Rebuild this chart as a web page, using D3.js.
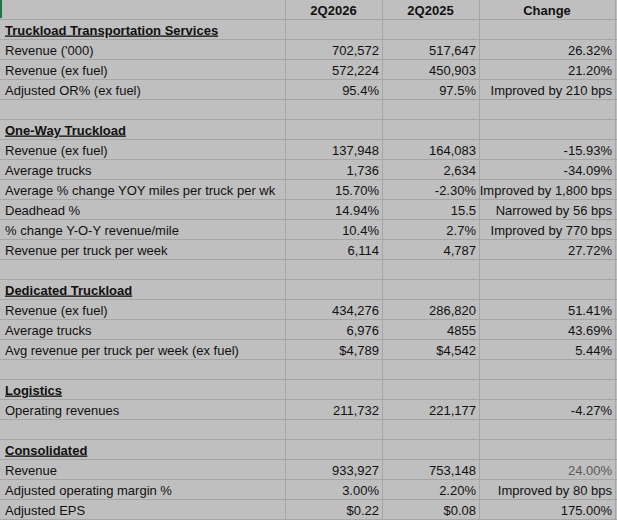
<!DOCTYPE html>
<html>
<head>
<meta charset="utf-8">
<script src="https://cdn.jsdelivr.net/npm/d3@7"></script>
<style>
  html, body { margin: 0; padding: 0; background: #ffffff; }
  svg { display: block; }
  text { font-family: "Liberation Sans", Arial, sans-serif; font-size: 13px; fill: #111; }
</style>
</head>
<body>
<div class="draw-area"></div>
<script>
// ---------------------------------------------------
// Data: one block per section of the sheet
// ---------------------------------------------------
const columnHeaders = ["", "2Q2026", "2Q2025", "Change"];

const sectionTitles = [
    "Truckload Transportation Services",
    "One-Way Truckload",
    "Dedicated Truckload",
    "Logistics",
    "Consolidated"
];

// Truckload Transportation Services
const ttsLabels = ["Revenue ('000)", "Revenue (ex fuel)", "Adjusted OR% (ex fuel)"];
const tts2026   = ["702,572", "572,224", "95.4%"];
const tts2025   = ["517,647", "450,903", "97.5%"];
const ttsChange = ["26.32%", "21.20%", "Improved by 210 bps"];

// One-Way Truckload
const owtLabels = ["Revenue (ex fuel)", "Average trucks", "Average % change YOY miles per truck per wk",
                   "Deadhead %", "% change Y-O-Y revenue/mile", "Revenue per truck per week"];
const owt2026   = ["137,948", "1,736", "15.70%", "14.94%", "10.4%", "6,114"];
const owt2025   = ["164,083", "2,634", "-2.30%", "15.5", "2.7%", "4,787"];
const owtChange = ["-15.93%", "-34.09%", "Improved by 1,800 bps", "Narrowed by 56 bps", "Improved by 770 bps", "27.72%"];

// Dedicated Truckload
const dtLabels = ["Revenue (ex fuel)", "Average trucks", "Avg revenue per truck per week (ex fuel)"];
const dt2026   = ["434,276", "6,976", "$4,789"];
const dt2025   = ["286,820", "4855", "$4,542"];
const dtChange = ["51.41%", "43.69%", "5.44%"];

// Logistics
const logLabels = ["Operating revenues"];
const log2026   = ["211,732"];
const log2025   = ["221,177"];
const logChange = ["-4.27%"];

// Consolidated
const conLabels = ["Revenue", "Adjusted operating margin %", "Adjusted EPS"];
const con2026   = ["933,927", "3.00%", "$0.22"];
const con2025   = ["753,148", "2.20%", "$0.08"];
const conChange = ["24.00%", "Improved by 80 bps", "175.00%"];

// number of blank rows after each section
const gapsAfter = [1, 1, 1, 1, 0];

// ---------------------------------------------------
// Build the flat row list
// ---------------------------------------------------
const sections = [
    [ttsLabels, tts2026, tts2025, ttsChange],
    [owtLabels, owt2026, owt2025, owtChange],
    [dtLabels, dt2026, dt2025, dtChange],
    [logLabels, log2026, log2025, logChange],
    [conLabels, con2026, con2025, conChange]
];

const rows = [{ type: "header", cells: columnHeaders }];
sectionTitles.forEach((title, s) => {
    rows.push({ type: "section", cells: [title, "", "", ""] });
    const [labels, a, b, c] = sections[s];
    labels.forEach((lab, i) => {
        rows.push({ type: "data", section: title, cells: [lab, a[i], b[i], c[i]] });
    });
    for (let g = 0; g < gapsAfter[s]; g++) rows.push({ type: "blank", cells: ["", "", "", ""] });
});

// ---------------------------------------------------
// Layout
// ---------------------------------------------------
const width = 617, height = 525;
const rowH = 20;
const colEdges = [0, 285, 382, 479, 615];   // column boundaries (px)

const y = d3.scaleBand()
    .domain(d3.range(rows.length))
    .range([0, rows.length * rowH])
    .padding(0);

const colLeft  = d3.scaleOrdinal().domain(d3.range(4)).range(colEdges.slice(0, 4));
const colRight = d3.scaleOrdinal().domain(d3.range(4)).range(colEdges.slice(1));

const svg = d3.select(".draw-area")
    .append("svg")
    .attr("width", width)
    .attr("height", height);

const tableH = y.range()[1];

// Sheet background
svg.append("rect")
    .attr("x", 0).attr("y", 0)
    .attr("width", width).attr("height", tableH)
    .attr("fill", "#bfbfbf");

// Grid lines
const grid = svg.append("g").attr("stroke", "#a6a6a6").attr("stroke-width", 1);
grid.selectAll("line.h")
    .data(d3.range(rows.length))
    .join("line")
    .attr("class", "h")
    .attr("x1", 0).attr("x2", width)
    .attr("y1", d => y(d) + rowH - 0.5)
    .attr("y2", d => y(d) + rowH - 0.5);

grid.selectAll("line.v")
    .data(colEdges.slice(1))
    .join("line")
    .attr("class", "v")
    .attr("x1", d => d + 0.5).attr("x2", d => d + 0.5)
    .attr("y1", 0).attr("y2", tableH);

// Selected-cell marker at top left
svg.append("rect")
    .attr("x", 0).attr("y", 0)
    .attr("width", 2).attr("height", 18)
    .attr("fill", "#217346");

// Cells
const rowG = svg.selectAll("g.row")
    .data(rows)
    .join("g")
    .attr("class", "row")
    .attr("transform", (d, i) => `translate(0,${y(i)})`);

rowG.each(function (r) {
    const g = d3.select(this);
    r.cells.forEach((txt, c) => {
        if (!txt) return;
        const t = g.append("text").attr("y", 14.5).text(txt);
        if (r.type === "header") {
            t.attr("x", (colLeft(c) + colRight(c)) / 2)
             .attr("text-anchor", "middle")
             .attr("font-weight", "bold");
        } else if (c === 0) {
            t.attr("x", 5);
            if (r.type === "section") {
                t.attr("font-weight", "bold").attr("text-decoration", "underline");
            }
        } else {
            t.attr("x", colRight(c) - 3).attr("text-anchor", "end");
        }
        // consolidated revenue change is shown in a lighter grey in the sheet
        if (r.section === "Consolidated" && r.cells[0] === "Revenue" && c === 3) {
            t.style("fill", "#595959");
        }
    });
});
</script>
</body>
</html>
